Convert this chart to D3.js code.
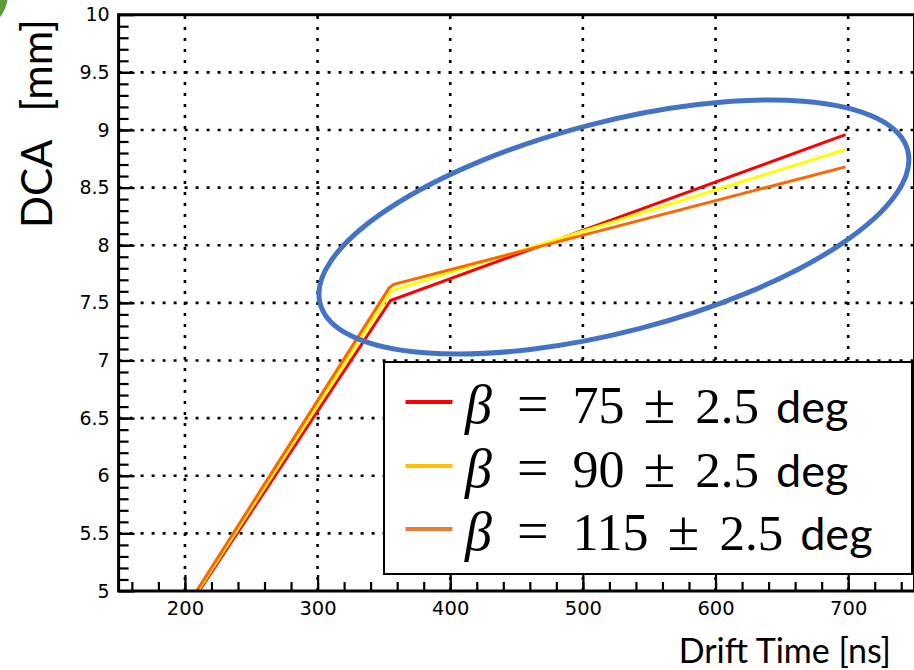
<!DOCTYPE html>
<html>
<head>
<meta charset="utf-8">
<script src="https://cdn.jsdelivr.net/npm/d3@7"></script>
<style>
  html, body { margin: 0; padding: 0; background: #ffffff; }
  svg { display: block; }
</style>
</head>
<body>
<svg id="chart" width="914" height="670"></svg>
<script>
// Drift-time to DCA relations for three track-angle bins
const betaValues = ["75", "90", "115"];
const lineColors = ["#ff0000", "#ffff00", "#ff6600"];
const legendColors = ["#ff0000", "#ffc000", "#ed7d31"];

// drift time [ns] and distance of closest approach [mm]
const driftTime75 = [210.7, 355.0, 698.0];
const dca75 = [5.0, 7.52, 8.96];
const driftTime90 = [209.8, 354.2, 357.0, 698.0];
const dca90 = [5.0, 7.58, 7.61, 8.83];
const driftTime115 = [208.8, 354.0, 357.5, 698.0];
const dca115 = [5.0, 7.63, 7.66, 8.68];

const xDomain = [150, 750];
const yDomain = [5, 10];
const xMajorTicks = [200, 300, 400, 500, 600, 700];
const xTickLabels = ["200", "300", "400", "500", "600", "700"];
const yMajorTicks = [5, 5.5, 6, 6.5, 7, 7.5, 8, 8.5, 9, 9.5, 10];
const yTickLabels = ["5", "5.5", "6", "6.5", "7", "7.5", "8", "8.5", "9", "9.5", "10"];

const xTitle = "Drift Time [ns]";
const yTitleMain = "DCA";
const yTitleUnit = "[mm]";

const series = [
  { beta: betaValues[0], t: driftTime75, d: dca75, color: lineColors[0], legend: legendColors[0] },
  { beta: betaValues[1], t: driftTime90, d: dca90, color: lineColors[1], legend: legendColors[1] },
  { beta: betaValues[2], t: driftTime115, d: dca115, color: lineColors[2], legend: legendColors[2] }
];

const svg = d3.select("#chart");
const plot = { left: 118.6, right: 914.5, top: 14.7, bottom: 591 };

const x = d3.scaleLinear().domain(xDomain).range([plot.left, plot.right]);
const y = d3.scaleLinear().domain(yDomain).range([plot.bottom, plot.top]);

// corner of a green shape peeking in at the top-left
svg.append("circle")
  .attr("cx", -30).attr("cy", -6).attr("r", 38)
  .attr("fill", "#5e9b3a");

svg.append("defs").append("clipPath").attr("id", "plotClip")
  .append("rect")
  .attr("x", plot.left).attr("y", plot.top)
  .attr("width", plot.right - plot.left).attr("height", plot.bottom - plot.top);

// dotted grid at the major ticks
const grid = svg.append("g").attr("stroke", "#000").attr("stroke-width", 2.6)
  .attr("stroke-dasharray", "3 8");
grid.selectAll("line.gx").data(xMajorTicks).join("line").attr("class", "gx")
  .attr("x1", d => x(d)).attr("x2", d => x(d))
  .attr("y1", y(yDomain[0])).attr("y2", y(yDomain[1]));
grid.selectAll("line.gy").data(yMajorTicks.filter(v => v > yDomain[0] && v < yDomain[1]))
  .join("line").attr("class", "gy")
  .attr("y1", d => y(d)).attr("y2", d => y(d))
  .attr("x1", x(xDomain[0])).attr("x2", x(xDomain[1]));

// axes with inward ticks
const tickFont = "'DejaVu Sans', 'Liberation Sans', sans-serif";

const xMinor = d3.axisBottom(x).tickValues(d3.range(160, 750, 20)).tickSize(-9).tickFormat("");
const xMajor = d3.axisBottom(x).tickValues(xMajorTicks).tickSize(-16).tickPadding(10)
  .tickFormat((d, i) => xTickLabels[i]);
const yMinor = d3.axisLeft(y).tickValues(d3.range(5.1, 10, 0.1)).tickSize(-10).tickFormat("");
const yMajor = d3.axisLeft(y).tickValues(yMajorTicks).tickSize(-16).tickPadding(9)
  .tickFormat((d, i) => yTickLabels[i]);

function styleAxis(size) {
  return g => {
    g.select(".domain").remove();
    g.selectAll(".tick line").attr("stroke", "#000").attr("stroke-width", 2.2);
    g.selectAll(".tick text").attr("fill", "#000").style("font-family", tickFont).style("font-size", size + "px");
  };
}

svg.append("g").attr("transform", `translate(0,${plot.bottom})`).call(xMinor).call(styleAxis(19));
svg.append("g").attr("transform", `translate(0,${plot.bottom})`).call(xMajor).call(styleAxis(19.5));
svg.append("g").attr("transform", `translate(${plot.left},0)`).call(yMinor).call(styleAxis(19));
svg.append("g").attr("transform", `translate(${plot.left},0)`).call(yMajor).call(styleAxis(19));

// data lines
const line = d3.line().x(p => x(p[0])).y(p => y(p[1]));
svg.append("g").attr("clip-path", "url(#plotClip)")
  .selectAll("path").data(series).join("path")
  .attr("d", s => line(s.t.map((t, i) => [t, s.d[i]])))
  .attr("fill", "none")
  .attr("stroke", s => s.color)
  .attr("stroke-width", 3)
  .attr("stroke-linejoin", "miter");

// frame
svg.append("rect")
  .attr("x", plot.left).attr("y", plot.top)
  .attr("width", plot.right - plot.left).attr("height", plot.bottom - plot.top)
  .attr("fill", "none").attr("stroke", "#000").attr("stroke-width", 3);

// highlight ellipse around the region above the kink
const ellCx = x(523.4), ellCy = y(8.158);
svg.append("ellipse")
  .attr("cx", 0).attr("cy", 0).attr("rx", 303.6).attr("ry", 104.8)
  .attr("transform", `translate(${ellCx},${ellCy}) rotate(-14.6)`)
  .attr("fill", "none").attr("stroke", "#4472c4").attr("stroke-width", 5);

// axis titles
const titleFont = "Lato, 'Open Sans', sans-serif";
svg.append("text")
  .attr("x", 891).attr("y", 663)
  .attr("text-anchor", "end")
  .style("font-family", titleFont).style("font-size", "34px").attr("fill", "#000")
  .text(xTitle);

const yt = svg.append("text")
  .attr("transform", "translate(51.7,228) rotate(-90)")
  .attr("text-anchor", "start")
  .style("font-family", titleFont).style("font-size", "42px").attr("fill", "#000");
yt.append("tspan").text(yTitleMain);
yt.append("tspan").attr("dx", 28).text(yTitleUnit);

// legend
const legend = svg.append("g");
legend.append("rect")
  .attr("x", 384).attr("y", 362).attr("width", 528).attr("height", 212)
  .attr("fill", "#fff").attr("stroke", "#000").attr("stroke-width", 2);

const mathFont = "'Liberation Serif', 'DejaVu Serif', serif";
const rowBase = [423, 487, 550];
series.forEach((s, i) => {
  const yb = rowBase[i];
  legend.append("line")
    .attr("x1", 405.5).attr("x2", 452.5)
    .attr("y1", yb - 21).attr("y2", yb - 21)
    .attr("stroke", s.legend).attr("stroke-width", 4);

  // tokens laid out left to right; `gap` is the space after each token
  const tokens = [
    { t: "β", font: mathFont, size: 54, italic: true, gap: 25 },
    { t: "=", font: mathFont, size: 56, gap: 24 },
    { t: s.beta, font: mathFont, size: 52, gap: 19 },
    { t: "±", font: mathFont, size: 58, gap: 20 },
    { t: "2.5", font: mathFont, size: 51, gap: 17 },
    { t: "deg", font: titleFont, size: 45, gap: 0 }
  ];
  let cx = 465;
  tokens.forEach(tok => {
    const el = legend.append("text")
      .attr("x", cx).attr("y", yb)
      .style("font-family", tok.font).style("font-size", tok.size + "px")
      .style("font-style", tok.italic ? "italic" : "normal")
      .attr("fill", "#000")
      .text(tok.t);
    cx += el.node().getComputedTextLength() + tok.gap;
  });
});
</script>
</body>
</html>
